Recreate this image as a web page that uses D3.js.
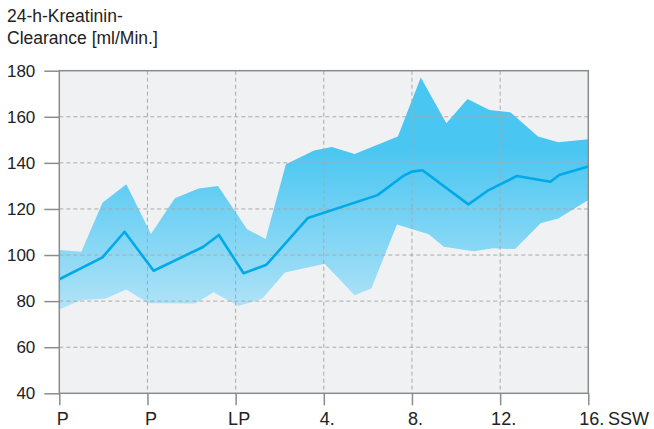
<!DOCTYPE html>
<html>
<head>
<meta charset="utf-8">
<script src="https://cdn.jsdelivr.net/npm/d3@7/dist/d3.min.js"></script>
<style>
  body { margin: 0; background: #fff; }
  svg { display: block; font-family: "Liberation Sans", Arial, sans-serif; }
</style>
</head>
<body>
<div id="chartDiv"></div>
<script>
// x tick labels (P, P, LP, then weeks of pregnancy)
const tickLabels = ["P", "P", "LP", "4.", "8.", "12.", "16."];
const yTicks = [40, 60, 80, 100, 120, 140, 160, 180];

// mean clearance line (x in tick units)
const meanX = [0, 0.49, 0.74, 1.07, 1.63, 1.81, 2.09, 2.35, 2.82, 3.61, 3.90, 4.00, 4.12, 4.64, 4.87, 5.19, 5.57, 5.67, 6.0];
const meanY = [89.5, 99, 110.1, 93.2, 103.5, 108.7, 92.1, 95.8, 116.1, 126, 134.3, 136.2, 136.8, 122, 128.2, 134.3, 131.8, 134.7, 138.4];

// upper edge of the range band
const upperX = [0, 0.25, 0.49, 0.76, 1.04, 1.31, 1.58, 1.80, 2.13, 2.34, 2.57, 2.89, 3.09, 3.35, 3.84, 4.10, 4.39, 4.63, 4.88, 5.12, 5.43, 5.66, 6.0];
const upperY = [102.2, 101.4, 122.7, 130.7, 109.1, 124.6, 128.9, 130, 111.2, 107, 139.4, 145.4, 146.9, 143.8, 151.4, 177.1, 157.2, 167.7, 162.9, 161.9, 151.4, 148.9, 150.2];

// lower edge of the range band
const lowerX = [0, 0.25, 0.52, 0.76, 1.01, 1.54, 1.75, 2.03, 2.30, 2.56, 3.01, 3.35, 3.54, 3.83, 4.19, 4.36, 4.70, 4.92, 5.17, 5.46, 5.66, 6.0];
const lowerY = [76.4, 80.5, 81, 85, 79.1, 79, 83.8, 77.9, 81, 92.4, 96.2, 82.6, 85.5, 113.3, 109, 103.6, 101.7, 102.9, 102.6, 113.8, 115.9, 123.9];

const W = 654, H = 429;
const margin = { top: 70.7, right: 65.7, bottom: 35.7, left: 59.3 };
const width = W - margin.left - margin.right,
      height = H - margin.top - margin.bottom;

const svg = d3.select("#chartDiv")
  .append("svg")
  .attr("width", W)
  .attr("height", H);

const defs = svg.append("defs");
const grad = defs.append("linearGradient")
  .attr("id", "bandGrad")
  .attr("gradientUnits", "userSpaceOnUse")
  .attr("x1", 0).attr("x2", 0)
  .attr("y1", 77).attr("y2", 310);
grad.append("stop").attr("offset", "0%").attr("stop-color", "#49c6f1");
grad.append("stop").attr("offset", "55%").attr("stop-color", "#9adcf6");
grad.append("stop").attr("offset", "100%").attr("stop-color", "#e3f4fc");

const g = svg.append("g")
  .attr("transform", "translate(" + margin.left + "," + margin.top + ")");

const x = d3.scaleLinear().domain([0, 6]).range([0, width]);
const y = d3.scaleLinear().domain([40, 180]).range([height, 0]);

// plot background
g.append("rect")
  .attr("width", width)
  .attr("height", height)
  .attr("fill", "#f0f1f3");

// range band
const bandPts = upperX.map((d, i) => [x(d), y(upperY[i])])
  .concat(lowerX.map((d, i) => [x(d), y(lowerY[i])]).reverse());
g.append("path")
  .attr("d", d3.line()(bandPts) + "Z")
  .attr("fill", "url(#bandGrad)");

// dashed grid
g.selectAll(".hgrid")
  .data(yTicks.slice(1, -1))
  .enter().append("line")
  .attr("x1", 0).attr("x2", width)
  .attr("y1", d => y(d)).attr("y2", d => y(d))
  .attr("stroke", "#a9a9a9")
  .attr("stroke-width", 1)
  .attr("stroke-dasharray", "4,3");
g.selectAll(".vgrid")
  .data(d3.range(1, 6))
  .enter().append("line")
  .attr("y1", 0).attr("y2", height)
  .attr("x1", d => x(d)).attr("x2", d => x(d))
  .attr("stroke", "#a9a9a9")
  .attr("stroke-width", 1)
  .attr("stroke-dasharray", "4,3");

// mean line
g.append("path")
  .datum(meanX.map((d, i) => [d, meanY[i]]))
  .attr("d", d3.line().x(d => x(d[0])).y(d => y(d[1])))
  .attr("fill", "none")
  .attr("stroke", "#00aae9")
  .attr("stroke-width", 2.6)
  .attr("stroke-linejoin", "round");

// frame
g.append("rect")
  .attr("width", width)
  .attr("height", height)
  .attr("fill", "none")
  .attr("stroke", "#8c8c8c")
  .attr("stroke-width", 1.5);

// y axis
const yAxis = g.append("g")
  .call(d3.axisLeft(y).tickValues(yTicks).tickSize(15).tickPadding(9));
yAxis.select(".domain").remove();
yAxis.selectAll("line").attr("stroke", "#8c8c8c").attr("stroke-width", 1.5);
yAxis.selectAll("text")
  .attr("fill", "#222")
  .style("font-size", "17px");

// x axis
const xAxis = g.append("g")
  .attr("transform", "translate(0," + height + ")")
  .call(d3.axisBottom(x).tickValues(d3.range(0, 7)).tickSize(12).tickPadding(7)
    .tickFormat(d => tickLabels[d]));
xAxis.select(".domain").remove();
xAxis.selectAll("line").attr("stroke", "#8c8c8c").attr("stroke-width", 1.5);
xAxis.selectAll("text")
  .attr("fill", "#222")
  .attr("dx", 3)
  .style("font-size", "18px");

// unit label
svg.append("text")
  .attr("x", 608)
  .attr("y", 425)
  .attr("fill", "#222")
  .style("font-size", "18px")
  .text("SSW");

// title
const title = svg.append("text")
  .attr("x", 7)
  .attr("fill", "#222")
  .style("font-size", "17.5px");
title.append("tspan").attr("x", 7).attr("y", 21.5).text("24-h-Kreatinin-");
title.append("tspan").attr("x", 7).attr("y", 43.5).text("Clearance [ml/Min.]");
</script>
</body>
</html>
